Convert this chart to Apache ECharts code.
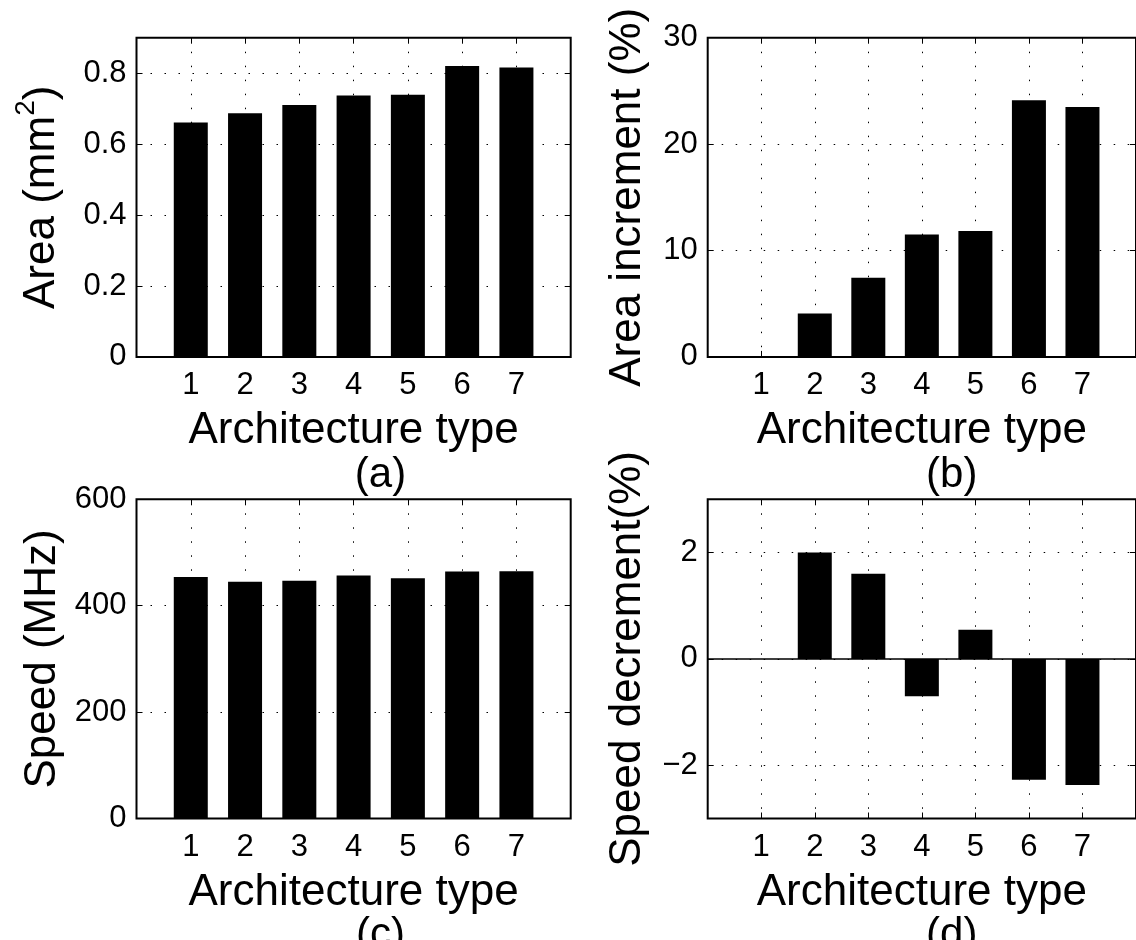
<!DOCTYPE html>
<html>
<head>
<meta charset="utf-8">
<script src="https://cdn.jsdelivr.net/npm/echarts@6/dist/echarts.min.js"></script>
<style>
  html, body { margin: 0; padding: 0; background: #fff; }
  #chart { width: 1136px; height: 940px; }
</style>
</head>
<body>
<div id="chart"></div>
<script>
// architecture types 1..7
const archTypes = [1, 2, 3, 4, 5, 6, 7];
const areaMm2 = [0.661, 0.687, 0.710, 0.737, 0.739, 0.820, 0.816];
const areaIncrementPct = [0, 4.08, 7.43, 11.51, 11.83, 24.12, 23.49];
const speedMHz = [454, 445, 447, 457, 451.5, 464.3, 464.8];
const speedDecrementPct = [0, 2.0, 1.6, -0.7, 0.55, -2.27, -2.37];
const subLabels = ["(a)", "(b)", "(c)", "(d)"];

const FONT = "Liberation Sans";

// one panel = grid + bottom/top x axes + left/right y axes + bar series
const panels = [
  { left: 136.5, top: 37.7, vals: areaMm2, ymin: 0, ymax: 0.9, interval: 0.2,
    showMax: false, name: "Area (mm{sup|2})", nameGap: 66 },
  { left: 707.7, top: 37.7, vals: areaIncrementPct, ymin: 0, ymax: 30, interval: 10,
    showMax: true, name: "Area increment (%)", nameGap: 58 },
  { left: 136.5, top: 499.3, vals: speedMHz, ymin: 0, ymax: 600, interval: 200,
    showMax: true, name: "Speed (MHz)", nameGap: 72 },
  { left: 707.7, top: 499.3, vals: speedDecrementPct, ymin: -3, ymax: 3, splitNumber: 3,
    showMax: false, name: "Speed decrement(%)", nameGap: 58, zeroLine: true }
];

const grid = [], xAxis = [], yAxis = [], series = [], graphic = [];
const dotted = { color: "#000", width: 1, type: [1.5, 12.5] };

panels.forEach((p, i) => {
  grid.push({
    left: p.left, top: p.top, width: 434.2, height: 319.2,
    show: true, backgroundColor: "#fff", borderColor: "#000", borderWidth: 2, z: 1
  });

  const xMain = xAxis.length;
  xAxis.push({
    gridIndex: i, type: "value", min: 0, max: 8, interval: 1, position: "bottom", z: 2,
    axisLine: { show: false, onZero: false },
    axisTick: { inside: true, length: 6, lineStyle: { color: "#000", width: 1 } },
    axisLabel: { color: "#000", fontSize: 31, fontFamily: FONT, margin: 13,
      showMinLabel: false, showMaxLabel: false },
    splitLine: { show: true, lineStyle: dotted },
    name: "Architecture type", nameLocation: "middle", nameGap: 52,
    nameTextStyle: { color: "#000", fontSize: 44, fontFamily: FONT }
  });
  xAxis.push({
    gridIndex: i, type: "value", min: 0, max: 8, interval: 1, position: "top", z: 2,
    axisLine: { show: false, onZero: false },
    axisTick: { inside: true, length: 6, lineStyle: { color: "#000", width: 1 } },
    axisLabel: { show: false }, splitLine: { show: false }
  });

  const yMain = yAxis.length;
  const yCfg = {
    gridIndex: i, type: "value", min: p.ymin, max: p.ymax, position: "left", z: 2,
    axisLine: { show: false, onZero: false },
    axisTick: { inside: true, length: 6, lineStyle: { color: "#000", width: 1 } },
    axisLabel: { color: "#000", fontSize: 31, fontFamily: FONT, margin: 10,
      showMinLabel: p.ymin === 0, showMaxLabel: p.showMax,
      formatter: v => (v < 0 ? "\u2212" + Math.abs(v) : String(v)) },
    splitLine: { show: true, lineStyle: dotted },
    name: p.name, nameLocation: "middle", nameGap: p.nameGap,
    nameTextStyle: { color: "#000", fontSize: 44, fontFamily: FONT,
      rich: { sup: { fontSize: 28, fontFamily: FONT, color: "#000", verticalAlign: "bottom",
        padding: [0, 0, 30, 0] } } }
  };
  if (p.interval) yCfg.interval = p.interval;
  if (p.splitNumber) yCfg.splitNumber = p.splitNumber;
  yAxis.push(yCfg);
  const yRight = {
    gridIndex: i, type: "value", min: p.ymin, max: p.ymax, position: "right", z: 2,
    axisLine: { show: false, onZero: false },
    axisTick: { inside: true, length: 6, lineStyle: { color: "#000", width: 1 } },
    axisLabel: { show: false }, splitLine: { show: false }
  };
  if (p.interval) yRight.interval = p.interval;
  if (p.splitNumber) yRight.splitNumber = p.splitNumber;
  yAxis.push(yRight);

  if (p.zeroLine) {
    // bar baseline at y = 0
    xAxis.push({
      gridIndex: i, type: "value", min: 0, max: 8, position: "bottom", z: 2,
      axisLine: { show: true, onZero: true, onZeroAxisIndex: yMain,
        lineStyle: { color: "#000", width: 1.5 } },
      axisTick: { show: false }, axisLabel: { show: false }, splitLine: { show: false }
    });
  }

  series.push({
    type: "bar", xAxisIndex: xMain, yAxisIndex: yMain, z: 3,
    barWidth: 34,
    itemStyle: { color: "#000" },
    data: archTypes.map((t, j) => [t, p.vals[j]])
  });

  graphic.push({
    type: "text", z: 0,
    x: p.left + 217 + 27, y: p.top + 319.2 + (i < 2 ? 98 : 96),
    style: { text: subLabels[i], font: "42px " + FONT, fill: "#000",
      textAlign: "center", textVerticalAlign: "top" }
  });
});

const chart = echarts.init(document.getElementById("chart"));
chart.setOption({
  animation: false,
  backgroundColor: "#fff",
  textStyle: { fontFamily: FONT },
  grid, xAxis, yAxis, series, graphic
});
</script>
</body>
</html>
